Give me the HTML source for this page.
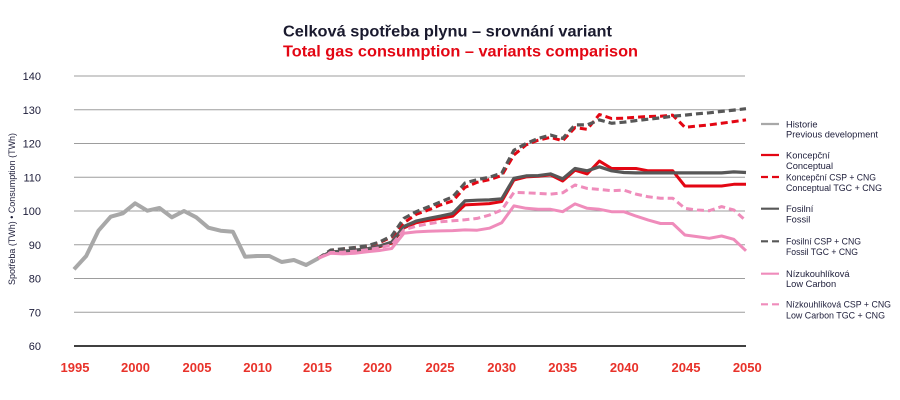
<!DOCTYPE html>
<html><head><meta charset="utf-8"><style>
html,body{margin:0;padding:0;background:#fff;}
svg{display:block;font-family:"Liberation Sans",sans-serif;}
</style></head><body>
<svg width="900" height="400" viewBox="0 0 900 400" xmlns="http://www.w3.org/2000/svg">
<rect width="900" height="400" fill="#fff"/>
<text x="283" y="36.5" font-size="16" font-weight="bold" fill="#1a1a2e" textLength="329" lengthAdjust="spacingAndGlyphs">Celková spotřeba plynu – srovnání variant</text>
<text x="283" y="56.5" font-size="16" font-weight="bold" fill="#e30613" textLength="355" lengthAdjust="spacingAndGlyphs">Total gas consumption – variants comparison</text>

<g stroke="#9d9d9d" stroke-width="1">
<line x1="74" y1="76" x2="745" y2="76"/>
<line x1="74" y1="109.75" x2="745" y2="109.75"/>
<line x1="74" y1="143.5" x2="745" y2="143.5"/>
<line x1="74" y1="177.25" x2="745" y2="177.25"/>
<line x1="74" y1="211" x2="745" y2="211"/>
<line x1="74" y1="244.75" x2="745" y2="244.75"/>
<line x1="74" y1="278.5" x2="745" y2="278.5"/>
<line x1="74" y1="312.25" x2="745" y2="312.25"/>
</g>
<line x1="74" y1="346" x2="746" y2="346" stroke="#000" stroke-width="1.5"/>

<g font-size="11" fill="#1d1d3a" text-anchor="end">
<text x="41" y="80">140</text>
<text x="41" y="113.75">130</text>
<text x="41" y="147.5">120</text>
<text x="41" y="181.25">110</text>
<text x="41" y="215">100</text>
<text x="41" y="248.75">90</text>
<text x="41" y="282.5">80</text>
<text x="41" y="316.25">70</text>
<text x="41" y="350">60</text>
</g>
<text transform="translate(15,209) rotate(-90)" font-size="9" fill="#1d1d3a" text-anchor="middle" textLength="152" lengthAdjust="spacingAndGlyphs">Spotřeba (TWh) • Consumption (TWh)</text>

<g font-size="13" font-weight="bold" fill="#e8322a" text-anchor="middle">
<text x="75" y="372">1995</text>
<text x="135.5" y="372">2000</text>
<text x="197" y="372">2005</text>
<text x="257.7" y="372">2010</text>
<text x="317.5" y="372">2015</text>
<text x="377.5" y="372">2020</text>
<text x="440" y="372">2025</text>
<text x="501.7" y="372">2030</text>
<text x="562.7" y="372">2035</text>
<text x="624.3" y="372">2040</text>
<text x="686" y="372">2045</text>
<text x="747.3" y="372">2050</text>
</g>

<g fill="none" stroke-linejoin="round">
<!-- History -->
<polyline stroke="#a8a8a8" stroke-width="4" points="74,269.3 86.2,256 98.4,230.7 110.7,216.7 122.9,213.3 135.1,203.3 147.3,210.7 159.5,208 171.8,217.3 184,211 196.2,217.3 208.4,227.7 220.6,230.7 232.9,231.7 245.1,256.7 257.3,256 269.4,256 281.7,262 293.9,260 306.1,265 318.4,258.3"/>
<!-- Conceptual CSP dashed -->
<polyline stroke="#e30613" stroke-width="3" stroke-dasharray="7 4" points="318.4,258.25 330.6,250.5 342.8,249.1 355,247.8 367.2,246.1 379.5,242.7 391.7,237 403.9,222.8 416.1,214.4 428.3,210 440.6,204.9 452.8,200.9 465,187.4 477.2,182.3 489.4,179.6 501.7,175.6 513.9,155 526.1,144.9 538.3,140.1 550.5,137.4 562.7,140.8 575,127.6 587.2,129.3 599.4,114.5 611.6,118.5 623.8,118.2 636,117.2 648.3,116.5 660.5,116.2 672.7,115.15 684.9,127.3 697.1,126 709.3,124.9 721.6,123.25 733.8,121.6 746,119.9"/>
<!-- Fossil CSP dashed -->
<polyline stroke="#575757" stroke-width="3.2" stroke-dasharray="7 4" points="318.4,258.25 330.6,250.15 342.8,248.8 355,247.45 367.2,245.75 379.5,242.1 391.7,236 403.9,218.4 416.1,211.7 428.3,206.9 440.6,201.9 452.8,196.8 465,183 477.2,179.6 489.4,177.25 501.7,173.2 513.9,150.25 526.1,143.5 538.3,138.4 550.5,135.1 562.7,138.4 575,124.9 587.2,124.9 599.4,119.9 611.6,123.25 623.8,122.2 636,120.6 648.3,119.2 660.5,117.85 672.7,116.2 684.9,115.15 697.1,113.8 709.3,112.8 721.6,111.4 733.8,110.1 746,108.7"/>
<!-- Conceptual solid -->
<polyline stroke="#e30613" stroke-width="3" points="318.4,258.25 330.6,252.2 342.8,251.5 355,250.5 367.2,249.1 379.5,246.8 391.7,243.1 403.9,227.9 416.1,222.8 428.3,220.45 440.6,218.4 452.8,216.1 465,204.9 477.2,204.25 489.4,203.6 501.7,201.55 513.9,180 526.1,176.9 538.3,176.2 550.5,174.9 562.7,181 575,170.2 587.2,173.9 599.4,161.05 611.6,168.5 623.8,168.5 636,168.5 648.3,170.8 660.5,170.8 672.7,170.8 684.9,186 697.1,186 709.3,186 721.6,186 733.8,184.3 746,184.3"/>
<!-- Fossil solid -->
<polyline stroke="#575757" stroke-width="3.2" points="318.4,258.25 330.6,251.8 342.8,251.2 355,250.15 367.2,248.8 379.5,246.1 391.7,242.1 403.9,226.5 416.1,221.1 428.3,218.4 440.6,216.1 452.8,213.4 465,200.9 477.2,200.2 489.4,199.9 501.7,198.9 513.9,178.3 526.1,175.9 538.3,175.6 550.5,173.9 562.7,178.9 575,168.5 587.2,170.8 599.4,166.8 611.6,170.8 623.8,172.5 636,172.9 648.3,172.9 660.5,172.9 672.7,172.9 684.9,172.9 697.1,172.9 709.3,172.9 721.6,172.9 733.8,171.85 746,172.5"/>
<!-- Low Carbon CSP dashed -->
<polyline stroke="#ef8cbb" stroke-width="3" stroke-dasharray="7 4" points="318.4,258.25 330.6,252.5 342.8,252.2 355,251.2 367.2,249.8 379.5,247.8 391.7,244.75 403.9,229.9 416.1,226.2 428.3,223.8 440.6,221.8 452.8,220.8 465,219.8 477.2,218.4 489.4,215.05 501.7,210 513.9,192.4 526.1,192.8 538.3,193.45 550.5,194.1 562.7,192.8 575,185 587.2,188.4 599.4,189.4 611.6,190.75 623.8,190.1 636,194.1 648.3,196.8 660.5,198.2 672.7,198.2 684.9,208.3 697.1,210 709.3,210.7 721.6,206.6 733.8,210 746,220.8"/>
<!-- Low Carbon solid -->
<polyline stroke="#ef8cbb" stroke-width="3" points="318.4,258.25 330.6,253.2 342.8,253.9 355,253.2 367.2,251.8 379.5,250.5 391.7,248.5 403.9,233.3 416.1,231.9 428.3,231.25 440.6,230.9 452.8,230.6 465,229.9 477.2,230.2 489.4,228.2 501.7,222.8 513.9,205.9 526.1,208.3 538.3,209.3 550.5,209.3 562.7,211.7 575,203.9 587.2,208.3 599.4,209.3 611.6,211.7 623.8,211.7 636,216.1 648.3,220.1 660.5,223.5 672.7,223.5 684.9,235 697.1,236.65 709.3,238.3 721.6,236 733.8,239.35 746,250.8"/>
</g>

<!-- Legend -->
<g stroke-width="2.2">
<line x1="761" y1="124" x2="779" y2="124" stroke="#a8a8a8"/>
<line x1="761" y1="155" x2="779" y2="155" stroke="#e30613"/>
<line x1="761" y1="177" x2="779" y2="177" stroke="#e30613" stroke-dasharray="7 4"/>
<line x1="761" y1="208.7" x2="779" y2="208.7" stroke="#575757"/>
<line x1="761" y1="241.3" x2="779" y2="241.3" stroke="#575757" stroke-dasharray="7 4"/>
<line x1="761" y1="273.7" x2="779" y2="273.7" stroke="#ef8cbb"/>
<line x1="761" y1="304.3" x2="779" y2="304.3" stroke="#ef8cbb" stroke-dasharray="7 4"/>
</g>
<g font-size="9.3" fill="#1d1d3a">
<text x="786" y="127.3">Historie</text>
<text x="786" y="137.6" textLength="92" lengthAdjust="spacingAndGlyphs">Previous development</text>
<text x="786" y="158.3">Koncepční</text>
<text x="786" y="169">Conceptual</text>
<text x="786" y="180.3" textLength="90" lengthAdjust="spacingAndGlyphs">Koncepční CSP + CNG</text>
<text x="786" y="191" textLength="96" lengthAdjust="spacingAndGlyphs">Conceptual TGC + CNG</text>
<text x="786" y="212">Fosilní</text>
<text x="786" y="222.3">Fossil</text>
<text x="786" y="244.6" textLength="75" lengthAdjust="spacingAndGlyphs">Fosilní CSP + CNG</text>
<text x="786" y="255" textLength="72" lengthAdjust="spacingAndGlyphs">Fossil TGC + CNG</text>
<text x="786" y="277">Nízukouhlíková</text>
<text x="786" y="287">Low Carbon</text>
<text x="786" y="307.6" textLength="105" lengthAdjust="spacingAndGlyphs">Nízkouhlíková CSP + CNG</text>
<text x="786" y="318.3" textLength="99" lengthAdjust="spacingAndGlyphs">Low Carbon TGC + CNG</text>
</g>
</svg>
</body></html>
